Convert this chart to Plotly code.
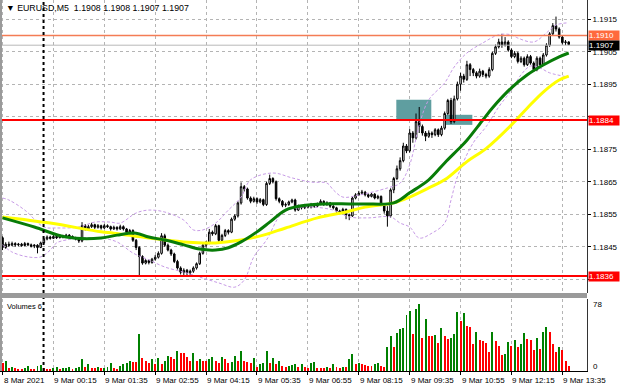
import plotly.graph_objects as go

# ---------------- data ----------------
tick_bars = [0, 16, 32, 48, 64, 80, 96, 112, 128, 144, 160, 176]
tick_labels = ["8 Mar 2021", "9 Mar 00:15", "9 Mar 01:35", "9 Mar 02:55", "9 Mar 04:15",
               "9 Mar 05:35", "9 Mar 06:55", "9 Mar 08:15", "9 Mar 09:35", "9 Mar 10:55",
               "9 Mar 12:15", "9 Mar 13:35"]

open_ = [1.18478,1.18448,1.18458,1.18455,1.18460,1.18456,1.18458,1.18454,1.18460,1.18456,
         1.18452,1.18455,1.18448,1.18462,1.18474,1.18480,1.18476,1.18482,1.18478,1.18484,
         1.18480,1.18486,1.18482,1.18478,1.18474,1.18468,1.18515,1.18505,1.18512,1.18518,
         1.18510,1.18515,1.18508,1.18515,1.18512,1.18505,1.18510,1.18505,1.18512,1.18505,
         1.18495,1.18500,1.18470,1.18448,1.18420,1.18400,1.18408,1.18402,1.18412,1.18418,
         1.18430,1.18484,1.18455,1.18440,1.18428,1.18405,1.18385,1.18372,1.18378,1.18370,
         1.18375,1.18385,1.18398,1.18430,1.18455,1.18462,1.18495,1.18490,1.18515,1.18470,
         1.18485,1.18500,1.18495,1.18535,1.18545,1.18585,1.18635,1.18628,1.18600,1.18590,
         1.18598,1.18588,1.18595,1.18580,1.18645,1.18660,1.18650,1.18598,1.18590,1.18578,
         1.18580,1.18588,1.18594,1.18563,1.18575,1.18570,1.18578,1.18572,1.18580,1.18575,
         1.18582,1.18590,1.18580,1.18585,1.18575,1.18570,1.18560,1.18555,1.18565,1.18548,
         1.18545,1.18600,1.18610,1.18615,1.18618,1.18610,1.18605,1.18612,1.18600,1.18605,
         1.18580,1.18560,1.18545,1.18625,1.18660,1.18690,1.18715,1.18760,1.18745,1.18800,
         1.18785,1.18835,1.18820,1.18800,1.18790,1.18800,1.18795,1.18810,1.18795,1.18815,
         1.18860,1.18900,1.18835,1.18905,1.18950,1.18975,1.18965,1.19010,1.18995,1.18985,
         1.18975,1.18990,1.18980,1.18975,1.18995,1.19045,1.19065,1.19080,1.19070,1.19080,
         1.19055,1.19035,1.19045,1.19020,1.19030,1.19010,1.19035,1.19015,1.18995,1.19030,
         1.19010,1.19040,1.19070,1.19105,1.19130,1.19120,1.19095,1.19078,1.19080]
high = [1.18482,1.18464,1.18466,1.18466,1.18464,1.18462,1.18462,1.18465,1.18463,1.18460,
        1.18458,1.18458,1.18466,1.18478,1.18485,1.18484,1.18486,1.18485,1.18488,1.18487,
        1.18490,1.18489,1.18485,1.18481,1.18477,1.18526,1.18520,1.18518,1.18524,1.18521,
        1.18520,1.18518,1.18520,1.18519,1.18515,1.18515,1.18513,1.18518,1.18516,1.18508,
        1.18505,1.18504,1.18474,1.18452,1.18424,1.18412,1.18411,1.18416,1.18425,1.18436,
        1.18492,1.18490,1.18460,1.18444,1.18432,1.18410,1.18390,1.18384,1.18382,1.18380,
        1.18390,1.18402,1.18435,1.18460,1.18468,1.18505,1.18500,1.18520,1.18518,1.18490,
        1.18505,1.18504,1.18540,1.18550,1.18590,1.18648,1.18640,1.18632,1.18605,1.18604,
        1.18602,1.18600,1.18598,1.18650,1.18672,1.18664,1.18654,1.18602,1.18594,1.18586,
        1.18592,1.18598,1.18598,1.18580,1.18578,1.18582,1.18581,1.18585,1.18583,1.18586,
        1.18596,1.18593,1.18590,1.18588,1.18578,1.18573,1.18564,1.18570,1.18568,1.18552,
        1.18605,1.18615,1.18622,1.18625,1.18622,1.18614,1.18616,1.18615,1.18610,1.18608,
        1.18584,1.18575,1.18630,1.18665,1.18700,1.18725,1.18770,1.18766,1.18812,1.18806,
        1.18860,1.18880,1.18826,1.18806,1.18808,1.18805,1.18815,1.18814,1.18822,1.18866,
        1.18905,1.18908,1.18915,1.18958,1.18985,1.18982,1.19022,1.19015,1.19000,1.18990,
        1.18998,1.18994,1.18985,1.19002,1.19050,1.19072,1.19090,1.19105,1.19095,1.19085,
        1.19060,1.19052,1.19050,1.19036,1.19035,1.19042,1.19040,1.19020,1.19036,1.19035,
        1.19046,1.19076,1.19110,1.19138,1.19158,1.19125,1.19100,1.19086,1.19082]
low = [1.18440,1.18444,1.18450,1.18452,1.18450,1.18452,1.18450,1.18452,1.18452,1.18448,
       1.18446,1.18430,1.18446,1.18460,1.18470,1.18472,1.18474,1.18474,1.18476,1.18476,
       1.18478,1.18478,1.18474,1.18470,1.18462,1.18464,1.18500,1.18502,1.18508,1.18505,
       1.18506,1.18503,1.18505,1.18508,1.18500,1.18502,1.18500,1.18502,1.18500,1.18490,
       1.18490,1.18465,1.18440,1.18358,1.18395,1.18396,1.18396,1.18398,1.18408,1.18414,
       1.18426,1.18450,1.18436,1.18422,1.18400,1.18380,1.18365,1.18360,1.18358,1.18362,
       1.18370,1.18380,1.18394,1.18426,1.18448,1.18458,1.18484,1.18486,1.18465,1.18466,
       1.18480,1.18488,1.18492,1.18530,1.18540,1.18580,1.18620,1.18595,1.18584,1.18586,
       1.18582,1.18584,1.18575,1.18576,1.18640,1.18645,1.18592,1.18584,1.18572,1.18572,
       1.18576,1.18584,1.18558,1.18560,1.18565,1.18566,1.18568,1.18568,1.18570,1.18572,
       1.18578,1.18576,1.18576,1.18570,1.18565,1.18555,1.18550,1.18552,1.18535,1.18532,
       1.18542,1.18596,1.18606,1.18610,1.18605,1.18600,1.18602,1.18596,1.18596,1.18575,
       1.18552,1.18512,1.18540,1.18615,1.18655,1.18684,1.18710,1.18738,1.18740,1.18770,
       1.18780,1.18800,1.18792,1.18775,1.18785,1.18785,1.18790,1.18788,1.18790,1.18810,
       1.18855,1.18828,1.18830,1.18900,1.18930,1.18955,1.18960,1.18975,1.18975,1.18968,
       1.18970,1.18972,1.18968,1.18970,1.18990,1.19040,1.19060,1.19062,1.19066,1.19050,
       1.19030,1.19030,1.19014,1.19015,1.19004,1.19006,1.19010,1.18988,1.18990,1.19004,
       1.19006,1.19035,1.19065,1.19100,1.19112,1.19090,1.19072,1.19070,1.19070]
close = [1.18448,1.18458,1.18455,1.18460,1.18456,1.18458,1.18454,1.18460,1.18456,1.18452,
         1.18455,1.18448,1.18462,1.18474,1.18480,1.18476,1.18482,1.18478,1.18484,1.18480,
         1.18486,1.18482,1.18478,1.18474,1.18468,1.18515,1.18505,1.18512,1.18518,1.18510,
         1.18515,1.18508,1.18515,1.18512,1.18505,1.18510,1.18505,1.18512,1.18505,1.18495,
         1.18500,1.18470,1.18448,1.18420,1.18400,1.18408,1.18402,1.18412,1.18418,1.18430,
         1.18484,1.18455,1.18440,1.18428,1.18405,1.18385,1.18372,1.18378,1.18370,1.18375,
         1.18385,1.18398,1.18430,1.18455,1.18462,1.18495,1.18490,1.18515,1.18470,1.18485,
         1.18500,1.18495,1.18535,1.18545,1.18585,1.18635,1.18628,1.18600,1.18590,1.18598,
         1.18588,1.18595,1.18580,1.18645,1.18660,1.18650,1.18598,1.18590,1.18578,1.18580,
         1.18588,1.18594,1.18563,1.18575,1.18570,1.18578,1.18572,1.18580,1.18575,1.18582,
         1.18590,1.18580,1.18585,1.18575,1.18570,1.18560,1.18555,1.18565,1.18548,1.18545,
         1.18600,1.18610,1.18615,1.18618,1.18610,1.18605,1.18612,1.18600,1.18605,1.18580,
         1.18560,1.18545,1.18625,1.18660,1.18690,1.18715,1.18760,1.18745,1.18800,1.18785,
         1.18835,1.18820,1.18800,1.18790,1.18800,1.18795,1.18810,1.18795,1.18815,1.18860,
         1.18900,1.18835,1.18905,1.18950,1.18975,1.18965,1.19010,1.18995,1.18985,1.18975,
         1.18990,1.18980,1.18975,1.18995,1.19045,1.19065,1.19080,1.19070,1.19080,1.19055,
         1.19035,1.19045,1.19020,1.19030,1.19010,1.19035,1.19015,1.18995,1.19030,1.19010,
         1.19040,1.19070,1.19105,1.19130,1.19120,1.19095,1.19078,1.19080,1.19072]
volume = [9,11,4,5,3,2,2,4,6,2,2,6,7,3,2,2,4,5,2,3,
          4,5,2,3,5,14,5,8,4,3,5,3,4,5,9,4,2,6,8,9,
          11,10,10,43,15,12,9,14,8,15,8,12,17,16,14,23,21,21,16,12,
          21,12,14,12,12,14,16,12,9,16,14,9,10,17,11,23,11,10,9,15,
          5,8,9,23,9,15,8,11,6,5,6,7,8,5,8,5,4,9,10,4,
          4,4,5,4,8,5,3,5,5,14,19,8,9,8,7,6,6,8,9,6,
          5,27,40,28,44,48,49,64,69,43,71,77,38,60,40,40,41,32,49,40,
          37,38,42,68,57,66,52,50,31,45,36,34,32,22,45,34,29,18,20,33,
          29,36,28,31,44,37,36,24,38,25,45,50,45,31,22,27,24,12,6]

green_ma_bar = [0,10,20,31,36,42,46,51,57,62,67,71,75,80,84,89,94,101,109,114,123,128,134,139,144,146,151,154,160,165,170,175,178]
green_ma = [1.18539,1.18511,1.18480,1.18477,1.18486,1.18492,1.18480,1.18471,1.18456,1.18443,1.18440,
            1.18447,1.18465,1.18496,1.18526,1.18563,1.18576,1.18582,1.18582,1.18582,1.18585,1.18616,
            1.18656,1.18708,1.18757,1.18778,1.18840,1.18877,1.18939,1.18979,1.19009,1.19034,1.19046]
yellow_ma_bar = [0,15,31,35,46,57,63,67,75,82,89,99,108,114,123,128,134,139,146,152,160,165,170,175,178]
yellow_ma = [1.18542,1.18523,1.18496,1.18492,1.18477,1.18465,1.18462,1.18462,1.18471,1.18486,1.18508,
             1.18539,1.18557,1.18572,1.18585,1.18603,1.18631,1.18656,1.18712,1.18752,1.18825,1.18877,
             1.18926,1.18963,1.18975]
upper_bar = [0,2,7,13,17,24,29,34,37,42,46,51,57,60,63,67,71,75,78,85,91,97,102,104,107,112,121,125,128,131,134,139,142,146,151,156,160,162,167,171,174,178]
upper_band = [1.18600,1.18594,1.18563,1.18511,1.18508,1.18511,1.18526,1.18526,1.18523,1.18554,1.18563,
              1.18557,1.18532,1.18502,1.18502,1.18523,1.18563,1.18603,1.18656,1.18677,1.18662,1.18649,
              1.18646,1.18625,1.18603,1.18609,1.18631,1.18646,1.18702,1.18825,1.18902,1.18954,1.19003,
              1.19046,1.19077,1.19102,1.19102,1.19092,1.19080,1.19108,1.19132,1.19139]
lower_bar = [0,3,8,12,15,17,20,25,31,36,41,46,51,57,62,68,73,76,79,83,88,94,98,104,109,115,122,125,128,131,135,139,141,143,148,152,156,160,163,166,169,172,178]
lower_band = [1.18456,1.18434,1.18419,1.18419,1.18440,1.18462,1.18471,1.18477,1.18477,1.18465,1.18431,
              1.18410,1.18388,1.18372,1.18357,1.18339,1.18326,1.18348,1.18419,1.18471,1.18554,1.18572,
              1.18572,1.18563,1.18542,1.18539,1.18542,1.18523,1.18511,1.18477,1.18492,1.18523,1.18594,
              1.18665,1.18770,1.18819,1.18880,1.18932,1.18979,1.19006,1.19000,1.18985,1.18972]

resistance_level = 1.1910
bid_level = 1.1907
support_levels = [1.1884, 1.1836]
zones = [(123.8, 134.8, 1.18843, 1.18902), (139.2, 147.7, 1.18825, 1.18856)]
separator_bar = 12.9
price_ticks = [1.1835, 1.1845, 1.1855, 1.1865, 1.1875, 1.1885, 1.1895, 1.1905, 1.1915]
hidden_ticks = [1.1835, 1.1885]
header = "▼ EURUSD,M5  1.1908 1.1908 1.1907 1.1907"

# ---------------- layout helpers ----------------
W, H = 620, 388
ML, MR, MT, MB = 0, 33, 0, 17
PH = H - MT - MB
PW = W - ML - MR
def py(ypx):
    return (H - MB - ypx) / PH
def px(xpx):
    return (xpx - ML) / PW

FONT = "Liberation Sans, Arial, sans-serif"
n = len(close)
bars = list(range(n))
vol_colors = ["#FF0000"] + ["#008000" if volume[i] > volume[i - 1] else "#FF0000" for i in range(1, n)]

fig = go.Figure()
fig.add_trace(go.Candlestick(
    x=bars, open=open_, high=high, low=low, close=close,
    increasing=dict(line=dict(color="black", width=1), fillcolor="white"),
    decreasing=dict(line=dict(color="black", width=1), fillcolor="black"),
    whiskerwidth=0, hoverinfo="skip", xaxis="x", yaxis="y", showlegend=False))
fig.add_trace(go.Scatter(x=upper_bar, y=upper_band, mode="lines",
                         line=dict(color="#C79BE6", width=1, dash="3px,2px", shape="spline"),
                         hoverinfo="skip", showlegend=False))
fig.add_trace(go.Scatter(x=lower_bar, y=lower_band, mode="lines",
                         line=dict(color="#C79BE6", width=1, dash="3px,2px", shape="spline"),
                         hoverinfo="skip", showlegend=False))
fig.add_trace(go.Scatter(x=yellow_ma_bar, y=yellow_ma, mode="lines",
                         line=dict(color="#FFFF00", width=3, shape="spline"),
                         hoverinfo="skip", showlegend=False))
fig.add_trace(go.Scatter(x=green_ma_bar, y=green_ma, mode="lines",
                         line=dict(color="#087C08", width=3, shape="spline"),
                         hoverinfo="skip", showlegend=False))
fig.add_trace(go.Bar(x=bars, y=volume, marker=dict(color=vol_colors, line=dict(width=0)),
                     width=0.62, xaxis="x2", yaxis="y2", hoverinfo="skip", showlegend=False))

xr = [-0.79, 183.75]
grid = dict(showgrid=True, gridcolor="#B4B4B4", griddash="3px,3px", gridwidth=1)
fig.update_layout(
    width=W, height=H, margin=dict(l=ML, r=MR, t=MT, b=MB),
    paper_bgcolor="white", plot_bgcolor="white",
    font=dict(family=FONT, size=8, color="black"),
    showlegend=False, bargap=0, hovermode=False,
    xaxis=dict(domain=[0, 1], range=xr, anchor="y", tickvals=tick_bars, showticklabels=False,
               zeroline=False, rangeslider=dict(visible=False), ticks="", **grid),
    xaxis2=dict(domain=[0, 1], range=xr, anchor="y2", matches="x", tickvals=tick_bars,
                showticklabels=False, zeroline=False, ticks="outside", ticklen=3,
                tickcolor="black", showline=True, linecolor="black", linewidth=1, **grid),
    yaxis=dict(domain=[py(293), 1], range=[1.18308, 1.19209], side="right",
               tickvals=price_ticks,
               ticktext=["" if v in hidden_ticks else f"{v:.4f}" for v in price_ticks],
               ticks="outside", ticklen=3, tickcolor="black", tickfont=dict(size=8),
               showline=True, linecolor="#333333", zeroline=False, **grid),
    yaxis2=dict(domain=[0, py(299)], range=[0, 82.6], side="right", showticklabels=False,
                showgrid=False, zeroline=False, showline=True, linecolor="#333333"),
)

shapes = []
for x0, x1, y0, y1 in zones:
    shapes.append(dict(type="rect", xref="x", yref="y", x0=x0, x1=x1, y0=y0, y1=y1,
                       fillcolor="#5F9EA0", line=dict(width=0), layer="between"))
shapes.append(dict(type="line", xref="paper", yref="y", x0=0, x1=1, y0=bid_level, y1=bid_level,
                   line=dict(color="#B8B8B8", width=1)))
shapes.append(dict(type="line", xref="paper", yref="y", x0=0, x1=1, y0=resistance_level,
                   y1=resistance_level, line=dict(color="#F47C55", width=1.5)))
for lv in support_levels:
    shapes.append(dict(type="line", xref="paper", yref="y", x0=0, x1=1, y0=lv, y1=lv,
                       line=dict(color="#FF0000", width=2)))
shapes.append(dict(type="line", xref="x", yref="paper", x0=separator_bar, x1=separator_bar,
                   y0=0, y1=1, line=dict(color="black", width=2, dash="dot")))
shapes.append(dict(type="rect", xref="paper", yref="paper", x0=0, x1=1, y0=py(298), y1=py(293),
                   fillcolor="#9A9A9A", line=dict(width=0)))
shapes.append(dict(type="rect", xref="paper", yref="paper", x0=0, x1=px(2), y0=0, y1=1,
                   fillcolor="#9A9A9A", line=dict(width=0)))
fig.update_layout(shapes=shapes)

ann = []
ann.append(dict(text=header, xref="paper", yref="paper", x=px(4), y=py(8), xanchor="left",
                yanchor="middle", showarrow=False, font=dict(size=8.8)))
ann.append(dict(text="Volumes 6", xref="paper", yref="paper", x=px(5), y=py(306), xanchor="left",
                yanchor="middle", showarrow=False, font=dict(size=7.5)))
ann.append(dict(text="78", xref="paper", yref="paper", x=1, xshift=4, y=py(304), xanchor="left",
                yanchor="middle", showarrow=False, font=dict(size=8)))
ann.append(dict(text="0", xref="paper", yref="paper", x=1, xshift=4, y=py(366), xanchor="left",
                yanchor="middle", showarrow=False, font=dict(size=8)))
for lv, bg in [(resistance_level, "#FF6A3D"), (bid_level, "black"),
               (support_levels[0], "#FF0000"), (support_levels[1], "#FF0000")]:
    ann.append(dict(text=f"{lv:.4f}", xref="paper", yref="y", x=1, xshift=1, y=lv,
                    xanchor="left", yanchor="middle", showarrow=False, bgcolor=bg,
                    font=dict(size=8, color="white"), width=30, height=9, borderpad=0,
                    align="left"))
for b, t in zip(tick_bars, tick_labels):
    ann.append(dict(text=t, xref="x2", yref="paper", x=b, xshift=-1, y=0, yshift=-3,
                    xanchor="left", yanchor="top", showarrow=False, font=dict(size=8)))
fig.update_layout(annotations=ann)

fig.write_html("out.html", config={"displayModeBar": False, "staticPlot": True},
               post_script="document.body.style.margin='0';")
